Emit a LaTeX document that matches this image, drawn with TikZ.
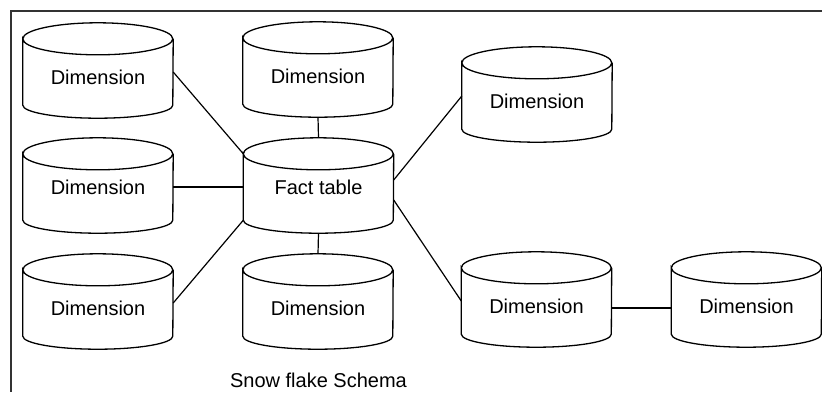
\documentclass[tikz,border=0pt]{standalone}
\usepackage{fontspec}
\setmainfont{Liberation Sans}
\newcommand\labelfont{\fontsize{20}{24}\selectfont}
\tikzset{
  cylline/.style={draw=black, line width=1.3pt},
  link/.style={draw=black, line width=1.2pt},
  frameline/.style={draw=black!80, line width=2pt},
  dbbody/.style={rectangle, inner sep=0pt, minimum width=150pt, minimum height=66pt, font=\labelfont},
  dimtext/.style={text height=24pt, text depth=0pt},
}
\begin{document}
\begin{tikzpicture}[x=1pt, y=1pt]
  \useasboundingbox (0,0) rectangle (822,-392);

  % open frame: top and left edges only
  \draw[frameline] (822,-10.5) -- (11,-10.5) -- (11,-392);

  % table bodies (the part between the two ellipses)
  \node[dbbody, dimtext] (d1) at (98,-72)    {Dimension};
  \node[dbbody, dimtext] (d2) at (318,-71)   {Dimension};
  \node[dbbody]          (fact) at (318.5,-187) {Fact table};
  \node[dbbody]          (d3) at (98,-187)   {Dimension};
  \node[dbbody, dimtext] (d4) at (98,-303)   {Dimension};
  \node[dbbody, dimtext] (d5) at (318,-303)  {Dimension};
  \node[dbbody, dimtext] (d6) at (537,-96)   {Dimension};
  \node[dbbody, dimtext] (d7) at (536.5,-301) {Dimension};
  \node[dbbody, dimtext] (d8) at (746.5,-301) {Dimension};

  % cylinder outlines around each body
  \foreach \n in {d1,d2,fact,d3,d4,d5,d6,d7,d8}{
    \draw[cylline] (\n.north west)
      arc[start angle=180, end angle=-180, x radius=75pt, y radius=16pt]
      -- (\n.south west)
      arc[start angle=180, end angle=360, x radius=75pt, y radius=13pt]
      -- (\n.north east);
  }

  % links to the fact table
  \draw[link] (d1.east) -- (fact.north west);
  \draw[link] ([yshift=-13pt]d2.south) -- ([yshift=16pt]fact.north);
  \draw[link] (d3.east) -- (fact.west);
  \draw[link] (d4.east) -- (fact.south west);
  \draw[link] ([yshift=-13pt]fact.south) -- ([yshift=16pt]d5.north);
  \draw[link] ([yshift=7pt]fact.east) -- (d6.west);
  \draw[link] ([yshift=-13pt]fact.east) -- (d7.west);
  % snowflake branch
  \draw[link] ([yshift=-7pt]d7.east) -- ([yshift=-7pt]d8.west);

  \node[font=\labelfont] (caption) at (318.5,-380) {Snow flake Schema};
\end{tikzpicture}
\end{document}
